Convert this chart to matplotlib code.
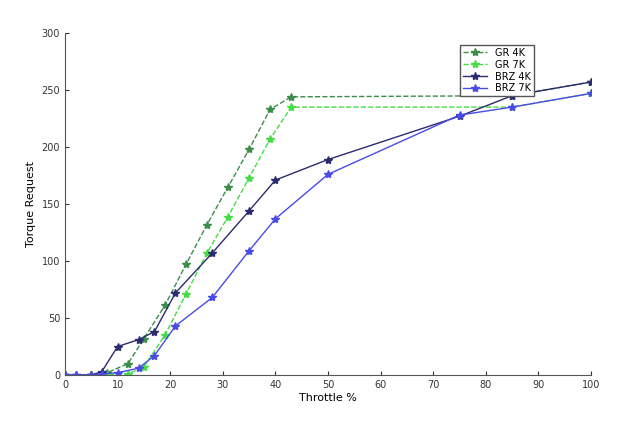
import matplotlib
matplotlib.use("Agg")
import matplotlib.pyplot as plt

gr4_x = [0, 5, 8, 12, 15, 19, 23, 27, 31, 35, 39, 43, 85, 100]
gr4_y = [0, 0, 2, 10, 32, 61, 97, 132, 165, 198, 233, 244, 245, 257]
gr7_x = [0, 5, 8, 12, 15, 19, 23, 27, 31, 35, 39, 43, 85, 100]
gr7_y = [0, 0, 0, 1, 7, 35, 71, 107, 139, 173, 207, 235, 235, 247]
brz4_x = [0, 2, 5, 7, 10, 14, 17, 21, 28, 35, 40, 50, 75, 85, 100]
brz4_y = [0, 0, 0, 3, 25, 31, 38, 72, 107, 144, 171, 189, 227, 245, 257]
brz7_x = [0, 2, 5, 7, 10, 14, 17, 21, 28, 35, 40, 50, 75, 85, 100]
brz7_y = [0, 0, 0, 1, 2, 6, 17, 43, 68, 109, 137, 176, 228, 235, 247]

fig = plt.figure(figsize=(6.28, 4.25), dpi=100)
ax = fig.add_axes([65/628, 50/425, 526/628, 342/425])
ax.plot(gr4_x, gr4_y, '--', marker='*', color='#3c8c4a', lw=1, ms=6, label='GR 4K')
ax.plot(gr7_x, gr7_y, '--', marker='*', color='#44dd44', lw=1, ms=6, label='GR 7K')
ax.plot(brz4_x, brz4_y, '-', marker='*', color='#2b2b70', lw=1, ms=6, label='BRZ 4K')
ax.plot(brz7_x, brz7_y, '-', marker='*', color='#4a4ae8', lw=1, ms=6, label='BRZ 7K')
ax.set_xlim(0, 100)
ax.set_ylim(0, 300)
ax.set_xticks(range(0, 101, 10))
ax.set_yticks(range(0, 301, 50))
ax.tick_params(labelsize=7, direction='in', length=3, colors='#333333')
for s in ['top', 'right']:
    ax.spines[s].set_visible(False)
for s in ax.spines.values():
    s.set_color('#555555')
ax.set_xlabel('Throttle %', fontsize=8, labelpad=2)
ax.set_ylabel('Torque Request', fontsize=8)
leg = ax.legend(loc='upper right', bbox_to_anchor=(0.9, 0.98), fontsize=7, fancybox=False,
                framealpha=1, edgecolor='#555555', handlelength=2.5, borderpad=0.3, labelspacing=0.2)
fig.savefig('out.png', dpi=100)
